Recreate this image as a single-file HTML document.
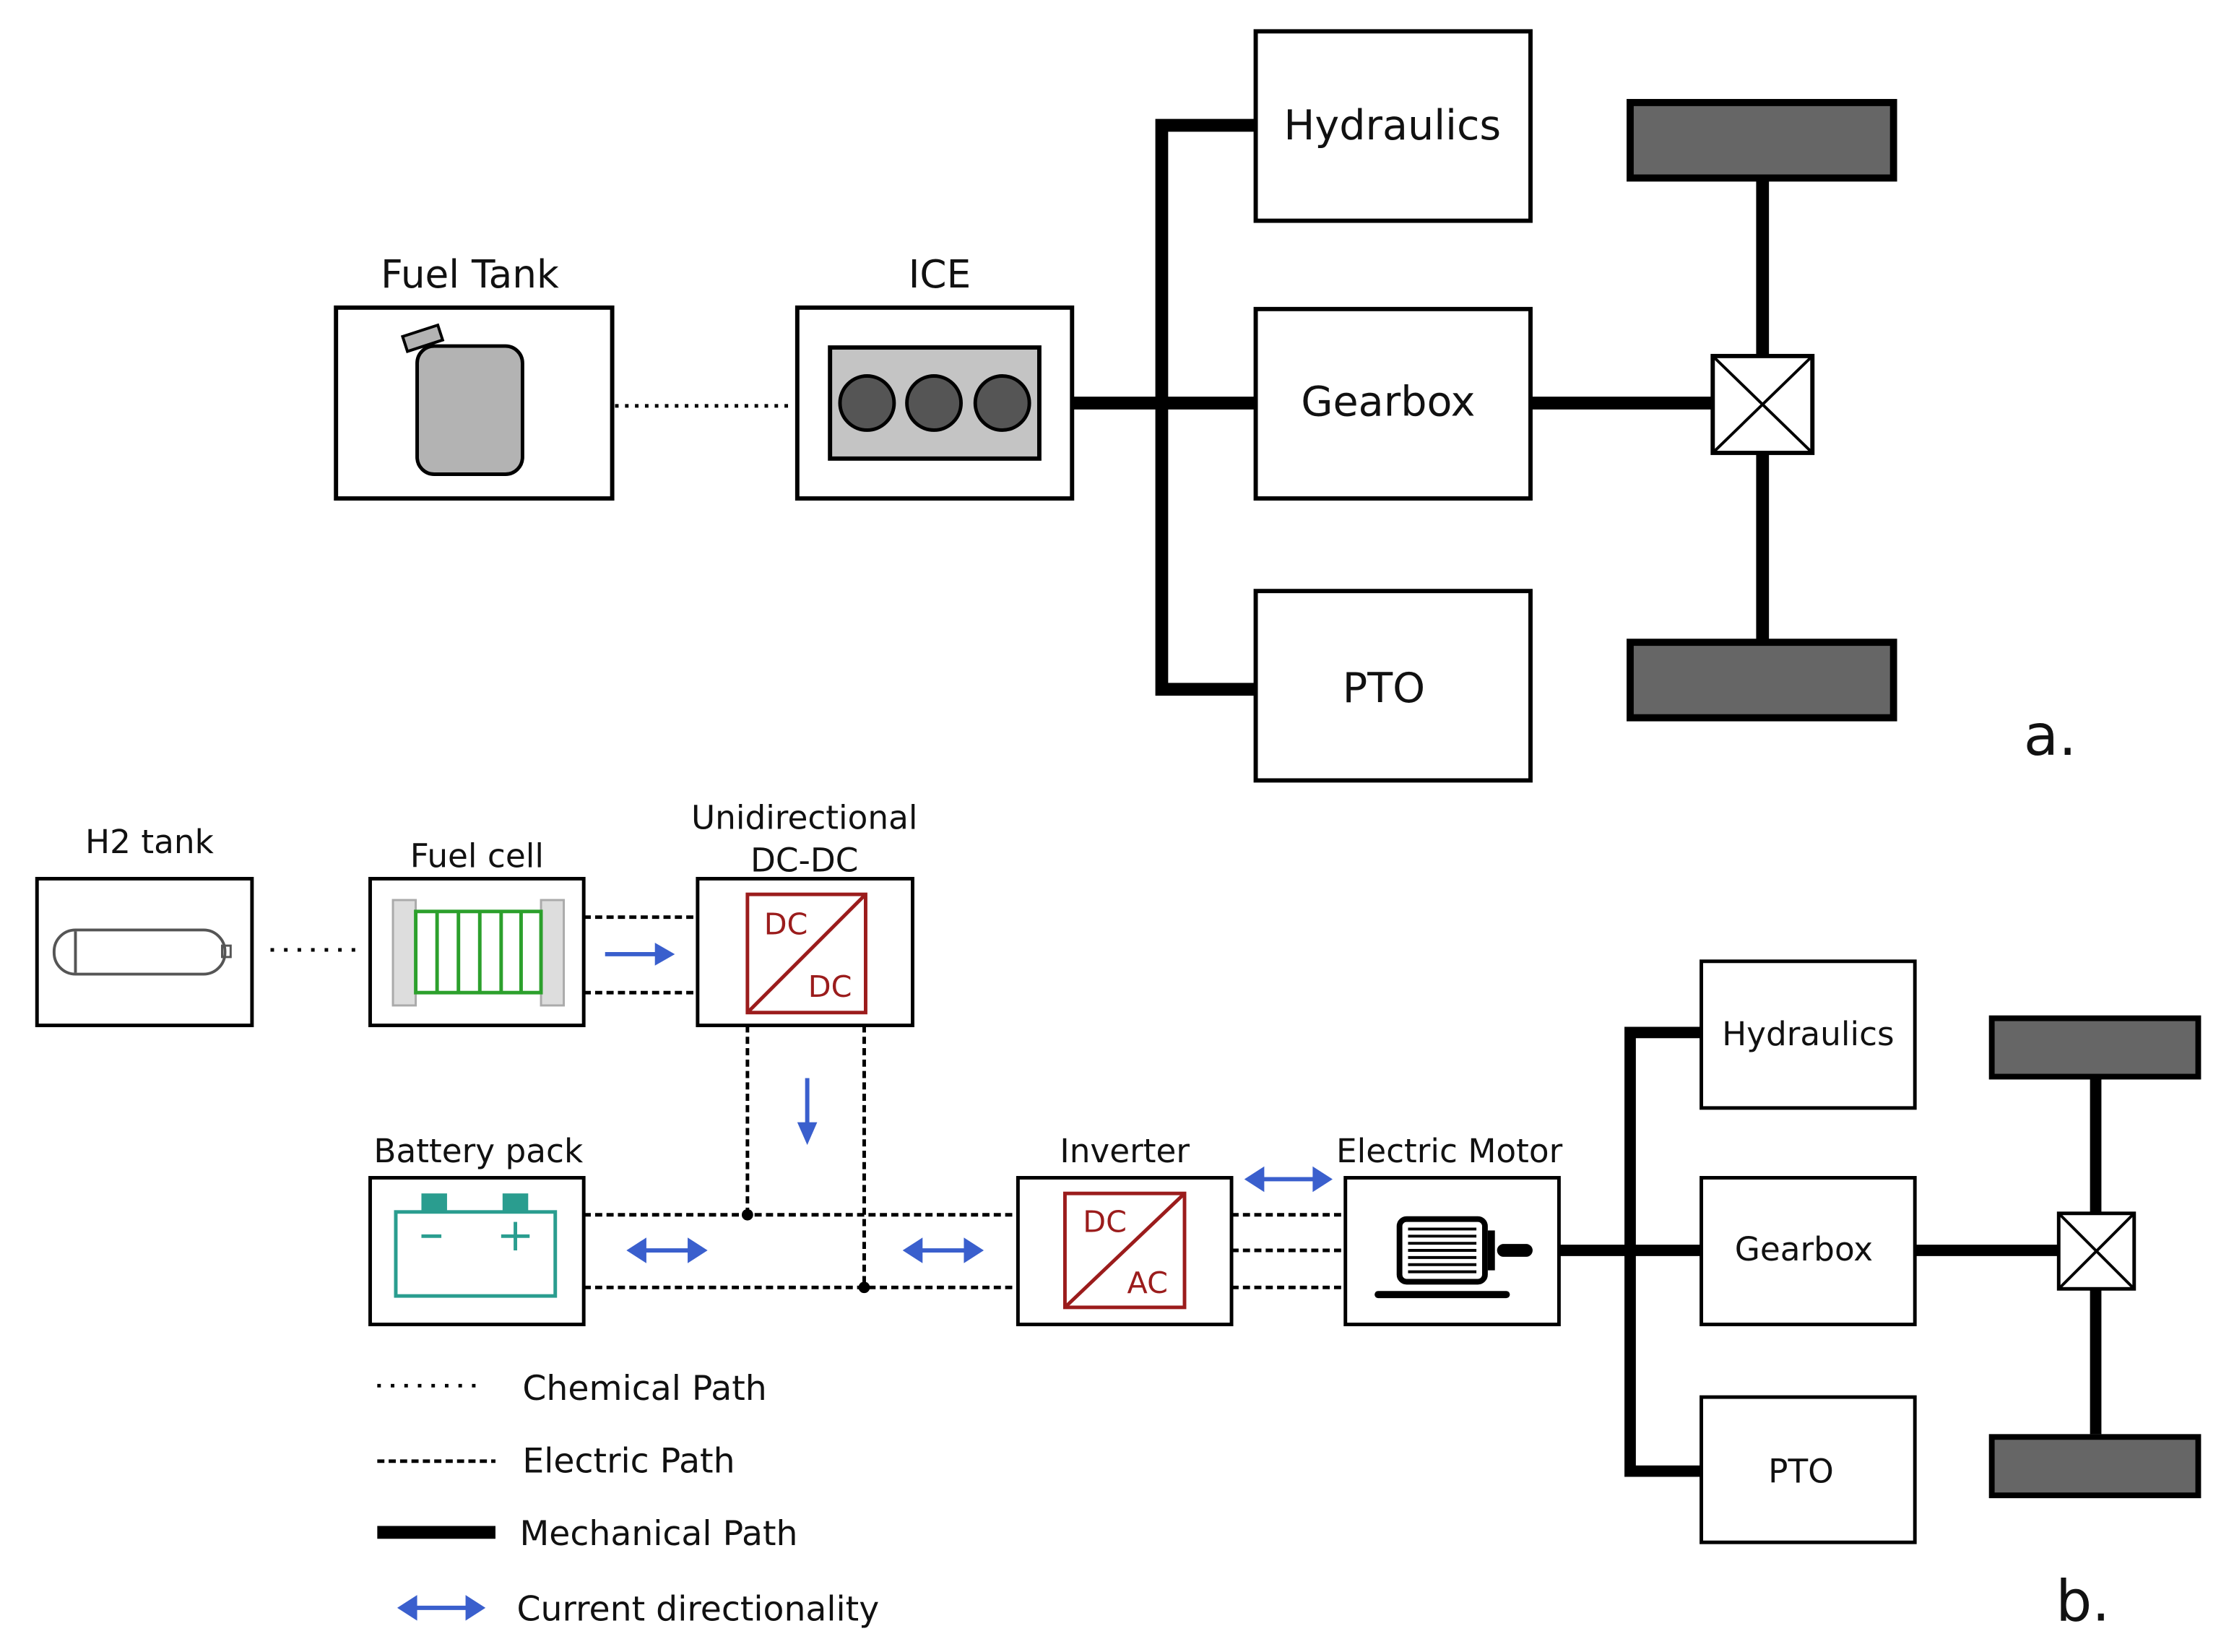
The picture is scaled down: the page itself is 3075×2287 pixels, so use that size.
<!DOCTYPE html>
<html><head><meta charset="utf-8"><style>html,body{margin:0;padding:0;background:#fff}svg{display:block}text{font-family:"DejaVu Sans","Liberation Sans",sans-serif;fill:#111}</style></head><body>
<svg width="3075" height="2287" viewBox="0 0 1560 1160" preserveAspectRatio="none" xmlns="http://www.w3.org/2000/svg">
<defs>
<marker id="ah" markerWidth="4" markerHeight="4" refX="2" refY="2" orient="auto" markerUnits="strokeWidth"><path d="M0,0 L4,2 L0,4 Z" fill="#3a5fcd"/></marker>
</defs>
<g fill="none" stroke="#000" stroke-width="3">
<!-- part a boxes -->
<rect x="236" y="216" width="194" height="134"/>
<rect x="560" y="216" width="193" height="134"/>
<rect x="882" y="22" width="193" height="133"/>
<rect x="882" y="217" width="193" height="133"/>
<rect x="882" y="415" width="193" height="133"/>
</g>
<!-- fuel tank icon -->
<rect x="293" y="243" width="74" height="90" rx="12" fill="#b3b3b3" stroke="#000" stroke-width="2.5"/>
<rect x="284" y="232" width="26" height="11" fill="#b3b3b3" stroke="#000" stroke-width="2" transform="rotate(-18 297 238)"/>
<!-- ICE icon -->
<rect x="583" y="244" width="147" height="78" fill="#c4c4c4" stroke="#000" stroke-width="3"/>
<circle cx="609" cy="283" r="19" fill="#555" stroke="#000" stroke-width="2.5"/>
<circle cx="656" cy="283" r="19" fill="#555" stroke="#000" stroke-width="2.5"/>
<circle cx="704" cy="283" r="19" fill="#555" stroke="#000" stroke-width="2.5"/>
<line x1="432" y1="285" x2="555" y2="285" stroke="#000" stroke-width="2.5" stroke-dasharray="2.5,4.5"/>
<!-- mechanical a -->
<g stroke="#000" stroke-width="9" fill="none">
<line x1="753" y1="283" x2="882" y2="283"/>
<polyline points="882,88 816,88 816,484 882,484"/>
<line x1="1075" y1="283" x2="1203" y2="283"/>
<line x1="1238" y1="125" x2="1238" y2="250"/>
<line x1="1238" y1="318" x2="1238" y2="450"/>
</g>
<rect x="1203" y="250" width="70" height="68" fill="#fff" stroke="#000" stroke-width="3"/>
<path d="M1203,250 L1273,318 M1273,250 L1203,318" stroke="#000" stroke-width="2"/>
<g fill="#666" stroke="#000" stroke-width="5">
<rect x="1145" y="72" width="185" height="53"/>
<rect x="1145" y="451" width="185" height="53"/>
</g>
<text x="978" y="98" font-size="29" text-anchor="middle">Hydraulics</text>
<text x="975" y="292" font-size="29" text-anchor="middle">Gearbox</text>
<text x="972" y="493" font-size="29" text-anchor="middle">PTO</text>
<text x="330" y="202" font-size="27" text-anchor="middle">Fuel Tank</text>
<text x="660" y="202" font-size="27" text-anchor="middle">ICE</text>
<text x="1440" y="530" font-size="40" text-anchor="middle">a.</text>

<!-- part b boxes -->
<g fill="#fff" stroke="#000" stroke-width="2.5">
<rect x="26" y="617" width="151" height="103"/>
<rect x="260" y="617" width="150" height="103"/>
<rect x="490" y="617" width="151" height="103"/>
<rect x="260" y="827" width="150" height="103"/>
<rect x="715" y="827" width="150" height="103"/>
<rect x="945" y="827" width="150" height="103"/>
<rect x="1195" y="675" width="150" height="103"/>
<rect x="1195" y="827" width="150" height="103"/>
<rect x="1195" y="981" width="150" height="102"/>
</g>
<!-- h2 tank -->
<rect x="38" y="653" width="120" height="31" rx="15" fill="none" stroke="#555" stroke-width="2"/>
<line x1="53" y1="654" x2="53" y2="683" stroke="#555" stroke-width="2"/>
<rect x="156" y="664" width="6" height="8" fill="none" stroke="#555" stroke-width="1.5"/>
<line x1="190" y1="667" x2="252" y2="667" stroke="#000" stroke-width="2.5" stroke-dasharray="2.5,7"/>
<!-- fuel cell -->
<rect x="276" y="632" width="16" height="74" fill="#ddd" stroke="#aaa" stroke-width="1.5"/>
<rect x="380" y="632" width="16" height="74" fill="#ddd" stroke="#aaa" stroke-width="1.5"/>
<g stroke="#2ca02c" stroke-width="2.5" fill="none">
<rect x="292" y="640" width="88" height="57"/>
<line x1="307" y1="640" x2="307" y2="697"/><line x1="322" y1="640" x2="322" y2="697"/><line x1="337" y1="640" x2="337" y2="697"/><line x1="352" y1="640" x2="352" y2="697"/><line x1="366" y1="640" x2="366" y2="697"/>
</g>
<!-- DC-DC -->
<rect x="525" y="628" width="83" height="83" fill="none" stroke="#9b1c1c" stroke-width="2.5"/>
<line x1="525" y1="711" x2="608" y2="628" stroke="#9b1c1c" stroke-width="2.5"/>
<text x="552" y="656" font-size="21" text-anchor="middle" style="fill:#9b1c1c">DC</text>
<text x="583" y="700" font-size="21" text-anchor="middle" style="fill:#9b1c1c">DC</text>
<!-- inverter -->
<rect x="748" y="838" width="84" height="80" fill="none" stroke="#9b1c1c" stroke-width="2.5"/>
<line x1="748" y1="918" x2="832" y2="838" stroke="#9b1c1c" stroke-width="2.5"/>
<text x="776" y="865" font-size="21" text-anchor="middle" style="fill:#9b1c1c">DC</text>
<text x="806" y="908" font-size="21" text-anchor="middle" style="fill:#9b1c1c">AC</text>
<!-- battery -->
<g stroke="#2a9d8f" fill="none" stroke-width="2.5">
<rect x="278" y="851" width="112" height="59"/>
<line x1="296" y1="868" x2="310" y2="868"/>
<line x1="352" y1="868" x2="372" y2="868"/><line x1="362" y1="858" x2="362" y2="878"/>
</g>
<rect x="296" y="838" width="18" height="13" fill="#2a9d8f"/>
<rect x="353" y="838" width="18" height="13" fill="#2a9d8f"/>
<!-- motor -->
<rect x="983" y="856" width="60" height="44" rx="5" fill="none" stroke="#000" stroke-width="4"/>
<g stroke="#000" stroke-width="2"><line x1="989" y1="863" x2="1037" y2="863"/><line x1="989" y1="868" x2="1037" y2="868"/><line x1="989" y1="873" x2="1037" y2="873"/><line x1="989" y1="878" x2="1037" y2="878"/><line x1="989" y1="883" x2="1037" y2="883"/><line x1="989" y1="888" x2="1037" y2="888"/><line x1="989" y1="893" x2="1037" y2="893"/></g>
<rect x="1045" y="864" width="5" height="28" fill="#000"/>
<line x1="1056" y1="878" x2="1072" y2="878" stroke="#000" stroke-width="9" stroke-linecap="round"/>
<line x1="968" y1="909" x2="1058" y2="909" stroke="#000" stroke-width="5" stroke-linecap="round"/>
<!-- electric dashed -->
<g stroke="#000" stroke-width="2.5" stroke-dasharray="5,3" fill="none">
<line x1="410" y1="644" x2="490" y2="644"/><line x1="410" y1="697" x2="490" y2="697"/>
<line x1="525" y1="720" x2="525" y2="853"/><line x1="607" y1="720" x2="607" y2="904"/>
<line x1="410" y1="853" x2="715" y2="853"/><line x1="410" y1="904" x2="715" y2="904"/>
<line x1="865" y1="853" x2="945" y2="853"/><line x1="865" y1="878" x2="945" y2="878"/><line x1="865" y1="904" x2="945" y2="904"/>
</g>
<circle cx="525" cy="853" r="4" fill="#000"/><circle cx="607" cy="904" r="4" fill="#000"/>
<!-- blue arrows -->
<g stroke="#3a5fcd" stroke-width="3" fill="#3a5fcd">
<line x1="425" y1="670" x2="462" y2="670"/><path d="M474,670 L460,662 L460,678 Z" stroke="none"/>
<line x1="567" y1="757" x2="567" y2="792"/><path d="M567,804 L560,788 L574,788 Z" stroke="none"/>
<line x1="450" y1="878" x2="486" y2="878"/><path d="M440,878 L454,869 L454,887 Z M497,878 L483,869 L483,887 Z" stroke="none"/>
<line x1="644" y1="878" x2="680" y2="878"/><path d="M634,878 L648,869 L648,887 Z M691,878 L677,869 L677,887 Z" stroke="none"/>
<line x1="884" y1="828" x2="926" y2="828"/><path d="M874,828 L888,819 L888,837 Z M936,828 L922,819 L922,837 Z" stroke="none"/>
<line x1="290" y1="1129" x2="330" y2="1129"/><path d="M279,1129 L293,1120 L293,1138 Z M341,1129 L327,1120 L327,1138 Z" stroke="none"/>
</g>
<!-- mechanical b -->
<g stroke="#000" stroke-width="8" fill="none">
<line x1="1095" y1="878" x2="1195" y2="878"/>
<polyline points="1195,725 1145,725 1145,1033 1195,1033"/>
<line x1="1345" y1="878" x2="1446" y2="878"/>
<line x1="1472" y1="757" x2="1472" y2="852"/><line x1="1472" y1="905" x2="1472" y2="1007"/>
</g>
<rect x="1446" y="852" width="53" height="53" fill="#fff" stroke="#000" stroke-width="2.5"/>
<path d="M1446,852 L1499,905 M1499,852 L1446,905" stroke="#000" stroke-width="2"/>
<g fill="#666" stroke="#000" stroke-width="4">
<rect x="1399" y="715" width="145" height="41"/>
<rect x="1399" y="1009" width="145" height="41"/>
</g>
<!-- labels b -->
<g font-size="23" text-anchor="middle">
<text x="105" y="599">H2 tank</text>
<text x="335" y="609">Fuel cell</text>
<text x="565" y="582">Unidirectional</text>
<text x="565" y="612">DC-DC</text>
<text x="336" y="816">Battery pack</text>
<text x="790" y="816">Inverter</text>
<text x="1018" y="816">Electric Motor</text>
<text x="1270" y="734">Hydraulics</text>
<text x="1267" y="885">Gearbox</text>
<text x="1265" y="1041">PTO</text>
</g>
<text x="1463" y="1138" font-size="40" text-anchor="middle">b.</text>
<!-- legend -->
<line x1="265" y1="973" x2="340" y2="973" stroke="#000" stroke-width="2.5" stroke-dasharray="2.5,7"/>
<line x1="265" y1="1026" x2="348" y2="1026" stroke="#000" stroke-width="2.5" stroke-dasharray="5,3"/>
<line x1="265" y1="1076" x2="348" y2="1076" stroke="#000" stroke-width="9"/>
<g font-size="24">
<text x="367" y="983">Chemical Path</text>
<text x="367" y="1034">Electric Path</text>
<text x="365" y="1085">Mechanical Path</text>
<text x="363" y="1138">Current directionality</text>
</g>
</svg>
</body></html>
